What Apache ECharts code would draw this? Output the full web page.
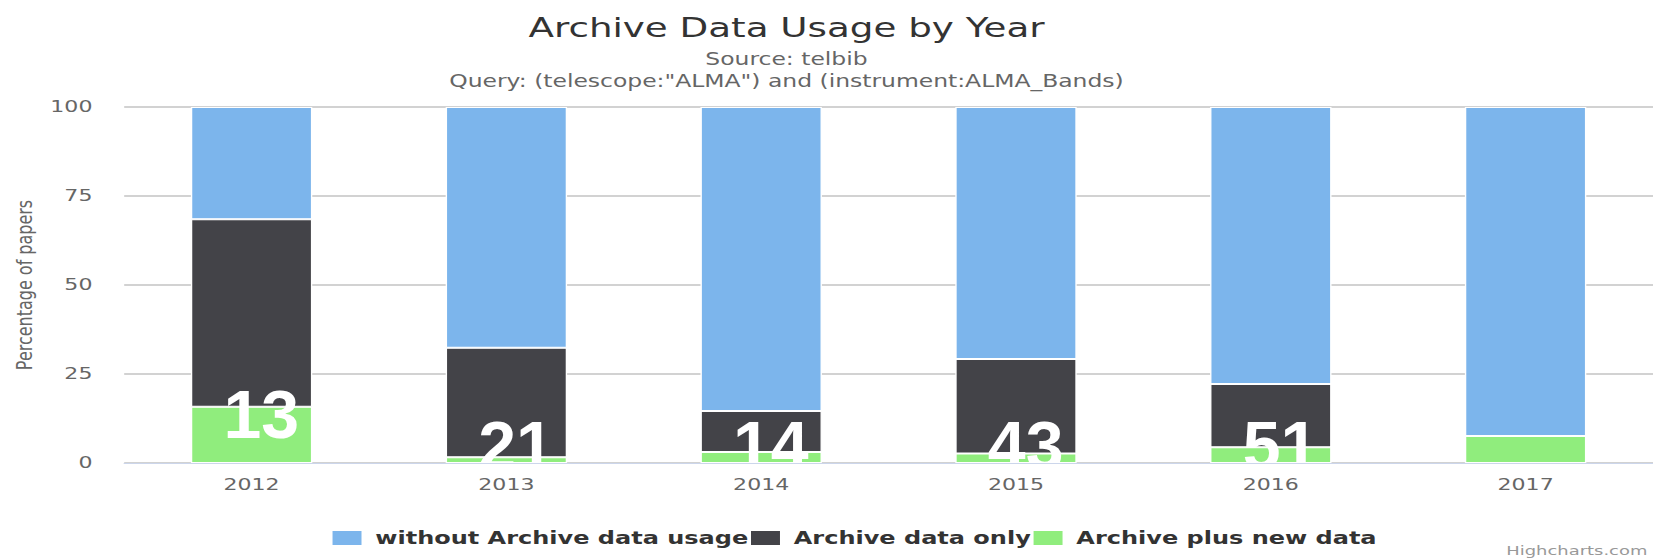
<!DOCTYPE html>
<html>
<head>
<meta charset="utf-8">
<title>Archive Data Usage by Year</title>
<script src="https://cdn.jsdelivr.net/npm/echarts@6/dist/echarts.min.js"></script>
<style>
html, body { margin: 0; padding: 0; background: #fff; overflow: hidden; }
/* the original picture is a chart stretched sideways, so draw narrow and stretch */
#main { width: 1198px; height: 560px; transform: scaleX(1.3798); transform-origin: 0 0; }
</style>
</head>
<body>
<div id="main"></div>
<script>
var years = ['2012', '2013', '2014', '2015', '2016', '2017'];
var withoutArchive = [31.5, 67.6, 85.4, 70.8, 77.8, 92.4];
var archiveOnly = [52.7, 30.8, 11.5, 26.5, 17.8, 0];
var archivePlusNew = [15.8, 1.6, 3.1, 2.7, 4.4, 7.6];
// paper counts written over the bars
var paperCounts = [13, 21, 14, 43, 51, null];
var yTicks = [0, 25, 50, 75, 100];

var STRETCH = 1.3798;
var FONT = '"DejaVu Sans", Verdana, sans-serif';

var countData = [];
for (var i = 0; i < years.length; i++) {
    if (paperCounts[i] != null) {
        countData.push([i, archivePlusNew[i], paperCounts[i]]);
    }
}

var myChart = echarts.init(document.getElementById('main'), null, {renderer: 'svg'});

var option = {
    animation: false,
    title: [{
        text: 'Archive Data Usage by Year',
        left: 570, top: 14, padding: 0, textAlign: 'center',
        textStyle: {fontFamily: FONT, fontSize: 27, fontWeight: 'normal', color: '#333'}
    }, {
        text: 'Source: telbib',
        left: 570, top: 51, padding: 0, textAlign: 'center',
        textStyle: {fontFamily: FONT, fontSize: 17, fontWeight: 'normal', color: '#666'}
    }, {
        text: 'Query: (telescope:"ALMA") and (instrument:ALMA_Bands)',
        left: 570, top: 73, padding: 0, textAlign: 'center',
        textStyle: {fontFamily: FONT, fontSize: 17, fontWeight: 'normal', color: '#666'}
    }, {
        text: 'Highcharts.com',
        right: 4, top: 544, padding: 0,
        textStyle: {fontFamily: FONT, fontSize: 13, fontWeight: 'normal', color: '#999'}
    }],
    legend: {
        data: ['without Archive data usage', 'Archive data only', 'Archive plus new data'],
        left: 239, top: 529, padding: 0,
        icon: 'rect', itemWidth: 23, itemHeight: 16, itemGap: 0,
        textStyle: {fontFamily: FONT, fontSize: 17.4, fontWeight: 'bold', color: '#333', padding: [0, 0, 0, 4]}
    },
    grid: {left: 90, right: 0, top: 107, bottom: 97},
    xAxis: {
        type: 'category',
        data: years,
        axisLine: {lineStyle: {color: '#ccd6eb'}},
        axisTick: {length: 14, lineStyle: {color: '#ccd6eb'}},
        axisLabel: {fontFamily: FONT, fontSize: 16, color: '#666', margin: 14}
    },
    yAxis: {
        type: 'value',
        min: yTicks[0], max: yTicks[yTicks.length - 1], interval: yTicks[1] - yTicks[0],
        name: 'Percentage of papers',
        nameLocation: 'middle', nameGap: 64,
        nameTextStyle: {fontFamily: FONT, fontSize: 16, color: '#666'},
        axisLine: {show: false},
        axisTick: {show: false},
        axisLabel: {fontFamily: FONT, fontSize: 16, color: '#666', margin: 23},
        splitLine: {lineStyle: {color: '#d2d2d2', width: 2}}
    },
    series: [{
        name: 'Archive plus new data',
        type: 'bar', stack: 'total', barWidth: 88,
        itemStyle: {color: '#90ed7d', borderColor: '#fff', borderWidth: 1},
        data: archivePlusNew
    }, {
        name: 'Archive data only',
        type: 'bar', stack: 'total', barWidth: 88,
        itemStyle: {color: '#434348', borderColor: '#fff', borderWidth: 1},
        data: archiveOnly
    }, {
        name: 'without Archive data usage',
        type: 'bar', stack: 'total', barWidth: 88,
        itemStyle: {color: '#7cb5ec', borderColor: '#fff', borderWidth: 1},
        data: withoutArchive
    }, {
        // big white counts, cut off at the plot bottom like the original
        type: 'custom',
        silent: true,
        clip: true,
        z: 5,
        encode: {x: 0, y: 1},
        data: countData,
        renderItem: function (params, api) {
            var base = api.coord([api.value(0), 0]);
            var cap = api.coord([api.value(0), api.value(1)]);
            // sits just under the green cap if it is tall, otherwise near the axis
            var cy = Math.min(cap[1] + 7, base[1] - 18);
            return {
                type: 'text',
                x: base[0] + 7,
                y: cy,
                scaleX: 1 / STRETCH,
                style: {
                    text: String(api.value(2)),
                    fill: '#fff',
                    font: 'bold 68px "Liberation Sans", Arial, sans-serif',
                    align: 'center',
                    verticalAlign: 'middle'
                }
            };
        }
    }]
};

myChart.setOption(option);
</script>
</body>
</html>
